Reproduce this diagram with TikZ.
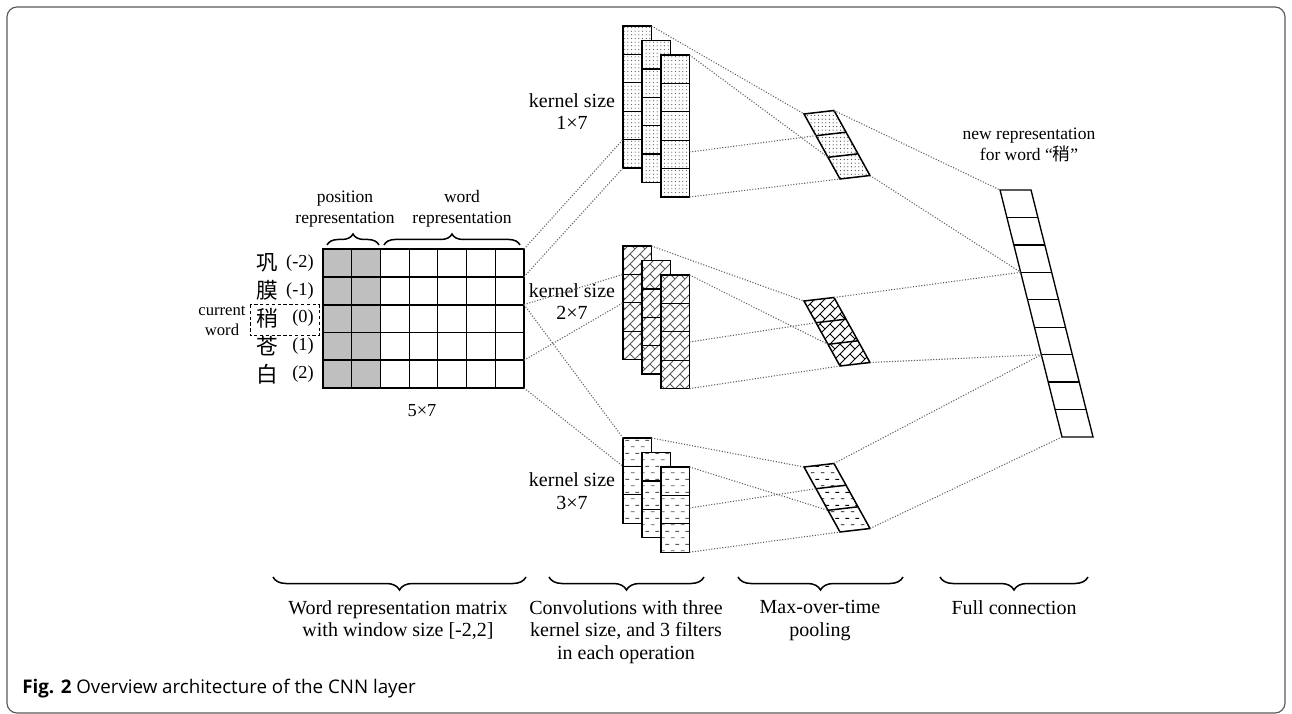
\documentclass[tikz,border=0pt]{standalone}
\usepackage{fontspec}
\setmainfont{Liberation Serif}
\newfontfamily\cjk{Noto Sans CJK SC}
\newfontfamily\capfont{Open Sans}
\usetikzlibrary{patterns,decorations.pathreplacing}

% fill patterns of the three kernel sizes
\pgfdeclarepatternformonly{finedots}{\pgfqpoint{-0.5pt}{-0.5pt}}{\pgfqpoint{2.7pt}{2.7pt}}{\pgfqpoint{2.2pt}{2.2pt}}{%
  \pgfpathcircle{\pgfqpoint{0.5pt}{0.5pt}}{0.38pt}\pgfusepath{fill}}
\pgfdeclarepatternformonly{slantbricks}{\pgfqpoint{-0.5pt}{-0.5pt}}{\pgfqpoint{6.5pt}{6.5pt}}{\pgfqpoint{6pt}{6pt}}{%
  \pgfsetlinewidth{0.45pt}
  \pgfpathmoveto{\pgfqpoint{0pt}{0pt}}\pgfpathlineto{\pgfqpoint{6pt}{6pt}}
  \pgfpathmoveto{\pgfqpoint{3pt}{3pt}}\pgfpathlineto{\pgfqpoint{0pt}{6pt}}
  \pgfusepath{stroke}}
\pgfdeclarepatternformonly{shortdashes}{\pgfqpoint{0pt}{0pt}}{\pgfqpoint{6pt}{8pt}}{\pgfqpoint{6pt}{8pt}}{%
  \pgfsetlinewidth{0.55pt}
  \pgfpathmoveto{\pgfqpoint{0.5pt}{2pt}}\pgfpathlineto{\pgfqpoint{2.9pt}{2pt}}
  \pgfpathmoveto{\pgfqpoint{3.5pt}{6pt}}\pgfpathlineto{\pgfqpoint{5.9pt}{6pt}}
  \pgfusepath{stroke}}

\newcommand{\lblfont}{\fontsize{10.5}{12.6}\selectfont}
\newcommand{\bigfont}{\fontsize{12}{13.6}\selectfont}

\tikzset{
  link/.style={draw=gray!75!black, densely dotted, line width=0.65pt},
  lbl/.style={font=\lblfont, align=center, inner sep=0pt},
  biglbl/.style={font=\bigfont, align=center, inner sep=0pt},
  topbrace/.style={decorate, decoration={brace, amplitude=6.6pt}, line width=0.9pt},
  botbrace/.style={decorate, decoration={brace, mirror, amplitude=7.8pt}, line width=0.9pt},
}

% one filter column: x, y, number of cells, pattern, pattern colour
\newcommand{\filtercol}[5]{%
  \fill[white] (#1,#2) rectangle ++(28.5,28.4*#3);
  \fill[pattern=#4, pattern color=#5] (#1,#2) rectangle ++(28.5,28.4*#3);
  \foreach \k in {1,...,#3}
    \draw[line width=0.8pt] (#1,#2+28.4*\k-28.4) rectangle ++(28.5,28.4);
}

\begin{document}
\begin{tikzpicture}[x=0.6pt, y=-0.6pt]
    \useasboundingbox (0,0) rectangle (1292,714);
    % Frame
    \draw[gray!70!black, line width=0.7pt, rounded corners=6pt] (7,7) rectangle (1285,713);

    % Word representation matrix
    \fill[gray!50] (323,249) rectangle (380.4,388);
    \foreach \i in {1,...,6}
        \draw[line width=0.6pt] (323+28.7*\i,249) -- ++(0,139);
    \draw[line width=0.6pt] (323,332.4) -- (524,332.4);
    \foreach \y in {276.8,304.6,360.2}
        \draw[line width=1.2pt] (323,\y) -- (524,\y);
    \draw[line width=1.4pt] (323,249) rectangle (524,388);
    \coordinate (m0) at (524,249);
    \coordinate (m1) at (524,276.8);
    \coordinate (m2) at (524,304.6);
    \coordinate (m4) at (524,360.2);
    \coordinate (m5) at (524,388);

    % Words of the window
    \foreach \c/\n [count=\i from 0] in {巩/(-2),膜/(-1),稍/(0),苍/(1),白/(2)} {
        \node[font=\cjk\fontsize{13}{13}\selectfont, inner sep=0pt] (ch\i) at (267,262.9+27.8*\i) {\c};
        \node[font=\fontsize{11}{13}\selectfont, anchor=east, inner sep=0pt] (pos\i) at (314,262.9+27.8*\i) {\n};
    }
    \draw[dash pattern=on 2pt off 1.5pt, line width=0.6pt] (250,305) rectangle (319,336);
    \node[font=\fontsize{10}{12}\selectfont, align=center, inner sep=0pt] (cur) at (222,321) {current\\word};

    \draw[topbrace] (327,245) -- (379,245);
    \draw[topbrace] (384,245) -- (520,245);
    \node[lbl] (poslbl) at (345,209) {position\\representation};
    \node[lbl] (wordlbl) at (462,209) {word\\representation};
    \node[font=\fontsize{11}{13}\selectfont] (size) at (422,411) {5×7};

    % Convolution filters
    \foreach \y/\n/\p/\pc/\m [count=\j] in {26/5/finedots/gray!80!black/97, 246/4/slantbricks/gray!70!black/67, 438/3/shortdashes/gray!70!black/41} {
        \foreach \c in {0,1,2}
            \filtercol{623+19*\c}{\y+14.5*\c}{\n}{\p}{\pc}
        \coordinate (kA\j) at (651.5,\y);
        \coordinate (kC\j) at (689.5,\y+29);
        \coordinate (kM\j) at (689.5,\y+29+\m);
        \coordinate (kB\j) at (689.5,\y+29+28.4*\n);
    }
    \coordinate (k1in1) at (623,139.6);
    \coordinate (k1in2) at (623,168);
    \coordinate (k2in1) at (623,274.4);
    \coordinate (k2in2) at (623,302.8);
    \coordinate (k3in1) at (623,438);
    \coordinate (k3in2) at (623,466.4);
    \node[biglbl] (k1lbl) at (572,111.5) {kernel size\\1×7};
    \node[biglbl] (k2lbl) at (572,301.5) {kernel size\\2×7};
    \node[biglbl] (k3lbl) at (572,491) {kernel size\\3×7};

    % Max-over-time pooling
    \foreach \y/\p/\pc [count=\j] in {114/finedots/gray!60!black, 301/slantbricks/black, 467/shortdashes/black} {
        \fill[white] (804,\y) -- ++(30,-3.5) -- ++(36,65) -- ++(-30,3.5) -- cycle;
        \fill[pattern=\p, pattern color=\pc] (804,\y) -- ++(30,-3.5) -- ++(36,65) -- ++(-30,3.5) -- cycle;
        \draw[line width=0.9pt] (804,\y) -- ++(30,-3.5) -- ++(36,65) -- ++(-30,3.5) -- cycle;
        \draw[line width=0.9pt] (816,\y+21.7) -- ++(30,-3.5);
        \draw[line width=0.9pt] (828,\y+43.3) -- ++(30,-3.5);
        \coordinate (pTL\j) at (804,\y);
        \coordinate (pD1\j) at (816,\y+21.7);
        \coordinate (pD2\j) at (828,\y+43.3);
        \coordinate (pBL\j) at (840,\y+65);
        \coordinate (pTR\j) at (834,\y-3.5);
        \coordinate (pBR\j) at (870,\y+61.5);
    }

    % Full connection
    \draw[line width=0.8pt] (1000,190) -- (1031,190) -- (1093,437) -- (1062,437) -- cycle;
    \foreach \k in {1,...,8}
        \draw[line width=0.8pt] (1000+6.89*\k,190+27.44*\k) -- ++(31,0);
    \coordinate (fc0) at (1000,190);
    \coordinate (fc3) at (1020.7,272.3);
    \coordinate (fc6) at (1041.3,354.7);
    \coordinate (fc9) at (1062,437);
    \node[lbl] (fclbl) at (1029,145) {new representation\\for word “{\cjk 稍}”};

    % Connections
    \draw[link] (m0) -- (k1in1);
    \draw[link] (m1) -- (k1in2);
    \draw[link] (m2) -- (k2in1);
    \draw[link] (m4) -- (k2in2);
    \draw[link] (m2) -- (k3in1);
    \draw[link] (m5) -- (k3in2);
    \foreach \j in {1,2,3} {
        \draw[link] (kA\j) -- (pTL\j);
        \draw[link] (kC\j) -- (pD2\j);
        \draw[link] (kM\j) -- (pD1\j);
        \draw[link] (kB\j) -- (pBL\j);
    }
    \draw[link] (pTR1) -- (fc0);
    \draw[link] (pBR1) -- (fc3);
    \draw[link] (pTR2) -- (fc3);
    \draw[link] (pBR2) -- (fc6);
    \draw[link] (pTR3) -- (fc6);
    \draw[link] (pBR3) -- (fc9);

    % Stages
    \draw[botbrace] (273,577) -- (526,577);
    \draw[botbrace] (549,577) -- (704,577);
    \draw[botbrace] (738,577) -- (903,577);
    \draw[botbrace] (940,577) -- (1088,577);
    \node[biglbl, anchor=north] (st1) at (398,600) {Word representation matrix\\with window size [-2,2]};
    \node[biglbl, anchor=north] (st2) at (626,600) {Convolutions with three\\kernel size, and 3 filters\\in each operation};
    \node[biglbl, anchor=north] (st3) at (820,600) {Max-over-time\\pooling};
    \node[biglbl, anchor=north] (st4) at (1014,600) {Full connection};

    % Caption
    \node[font=\capfont\fontsize{11.25}{13}\selectfont, anchor=west, inner sep=0pt] (cap) at (22,689) {{\bfseries Fig. 2} Overview architecture of the CNN layer};
\end{tikzpicture}
\end{document}
